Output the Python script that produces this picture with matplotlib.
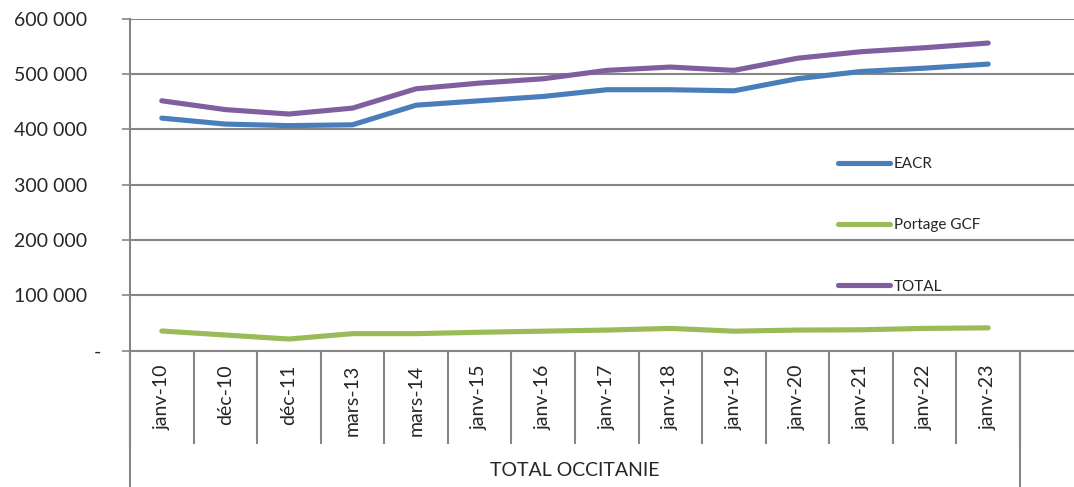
import numpy as np
import matplotlib
matplotlib.use("Agg")
import matplotlib.pyplot as plt
from matplotlib.transforms import blended_transform_factory, ScaledTranslation

plt.rcParams['font.family'] = ['Lato', 'DejaVu Sans']

categories = ["janv-10", "déc-10", "déc-11", "mars-13", "mars-14", "janv-15", "janv-16",
              "janv-17", "janv-18", "janv-19", "janv-20", "janv-21", "janv-22", "janv-23"]
eacr = [420600, 409800, 407000, 408500, 444000, 452000, 459800,
        472000, 472000, 470000, 492000, 505000, 511000, 518400]
portage_gcf = [35300, 28000, 20800, 30500, 30500, 33000, 35000,
               37000, 40000, 35000, 37000, 37500, 40000, 41000]
total = [452000, 436000, 428000, 438700, 473700, 484000, 491800,
         507000, 513000, 507000, 529000, 540800, 548000, 556500]
group_label = "TOTAL OCCITANIE"
y_ticks = [0, 100000, 200000, 300000, 400000, 500000, 600000]

grey = "#868686"
fig = plt.figure(figsize=(10.74, 4.87), dpi=100)
ax = fig.add_axes([130/1074, 1-350.5/487, (1074-130)/1074, (350.5-19)/487])

x = np.arange(len(categories))
ax.plot(x, eacr, color="#4A7EBB", lw=3.7, solid_capstyle="round", label="EACR")
ax.plot(x, portage_gcf, color="#9BBB59", lw=3.7, solid_capstyle="round", label="Portage GCF")
ax.plot(x, total, color="#7F5FA0", lw=3.7, solid_capstyle="round", label="TOTAL")

cell = 63.57
ax.set_xlim(-0.5, -0.5 + (1074-130)/cell)
ax.set_ylim(0, 600000)

ax.set_yticks(y_ticks)
ax.set_yticklabels(["-"] + [f"{v:,}".replace(",", " ") for v in y_ticks[1:]])
ax.tick_params(axis="y", length=6, width=1.2, color=grey, pad=25, labelsize=14, labelcolor="#262626")
ax.yaxis.grid(True, color=grey, lw=1.5)
ax.set_axisbelow(True)

# category axis: separators as major ticks, labels as minor ticks
ax.set_xticks(np.arange(len(categories) + 1) - 0.5)
ax.set_xticklabels([])
ax.tick_params(axis="x", which="major", length=67, width=1.5, color=grey)
ax.set_xticks(x, minor=True)
ax.set_xticklabels(categories, minor=True, rotation=90)
ax.tick_params(axis="x", which="minor", length=0, pad=10, labelsize=14, labelcolor="#262626")

for s in ["top", "right"]:
    ax.spines[s].set_visible(False)
ax.spines["left"].set_color(grey)
ax.spines["left"].set_linewidth(1.5)
ax.spines["bottom"].set_color(grey)
ax.spines["bottom"].set_linewidth(1.5)

trans = blended_transform_factory(ax.transData, ax.transAxes)
bottom = -(487-350.5)/(350.5-19)
for xb in [-0.5, len(categories) - 0.5]:
    ax.plot([xb, xb], [0, bottom], transform=trans, color=grey, lw=1.5, clip_on=False)
ax.text((len(categories) - 1) / 2, -(470-350.5)/(350.5-19), group_label, transform=trans,
        ha="center", va="center", fontsize=14, color="#262626")

# shift the "-" zero label to the right like Excel accounting format
lab0 = ax.get_yticklabels()[0]
lab0.set_transform(lab0.get_transform() + ScaledTranslation(14/100, 0, fig.dpi_scale_trans))

leg = ax.legend(loc="upper left", bbox_to_anchor=(838/1074, 1-157/487), bbox_transform=fig.transFigure,
                frameon=False, fontsize=11, handlelength=3.4, handletextpad=0.25,
                labelspacing=3.1, borderpad=0, borderaxespad=0)
for t in leg.get_texts():
    t.set_color("#262626")

fig.savefig("out.png", dpi=100)
